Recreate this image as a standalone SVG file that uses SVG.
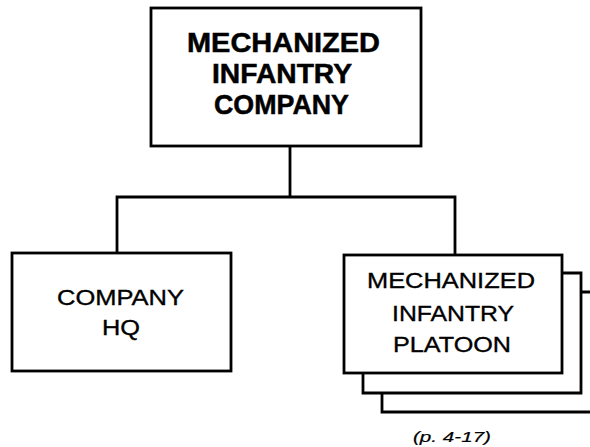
<svg xmlns="http://www.w3.org/2000/svg" width="590" height="447" viewBox="0 0 590 447">
<style>
.box{fill:#fff;stroke:#000;stroke-width:2.8}
.ln{fill:none;stroke:#000;stroke-width:2.8}
text{font-family:"Liberation Sans",Arial,sans-serif;fill:#000}
.b{font-weight:bold;font-size:27.5px;stroke:#000;stroke-width:0.5}
.r{font-size:22.5px;stroke:#000;stroke-width:0.35}
.c{font-style:italic;font-size:15px;stroke:#000;stroke-width:0.2}
</style>
<rect width="590" height="447" fill="#fff"/>
<g id="connectors">
<path class="ln" d="M290,146 V197 M117,253 V197 H455 V255"/>
</g>
<g id="company">
<rect class="box" x="151" y="8" width="270" height="138"/>
<text class="b" x="187" y="52" textLength="193" lengthAdjust="spacingAndGlyphs">MECHANIZED</text>
<text class="b" x="212" y="83" textLength="140" lengthAdjust="spacingAndGlyphs">INFANTRY</text>
<text class="b" x="214" y="114" textLength="135" lengthAdjust="spacingAndGlyphs">COMPANY</text>
</g>
<g id="hq">
<rect class="box" x="12" y="253" width="219" height="118"/>
<text class="r" x="57" y="305" textLength="127" lengthAdjust="spacingAndGlyphs">COMPANY</text>
<text class="r" x="102" y="335" textLength="38" lengthAdjust="spacingAndGlyphs">HQ</text>
</g>
<g id="platoon">
<path class="ln" d="M382,393 V412 H595 M581,292 H595"/>
<path class="ln" d="M363,373 V393 H581 V273 H562"/>
<rect class="box" x="344" y="255" width="218" height="118"/>
<text class="r" x="367" y="288" textLength="168" lengthAdjust="spacingAndGlyphs">MECHANIZED</text>
<text class="r" x="392" y="321" textLength="122" lengthAdjust="spacingAndGlyphs">INFANTRY</text>
<text class="r" x="393" y="352" textLength="118" lengthAdjust="spacingAndGlyphs">PLATOON</text>
</g>
<g id="caption">
<text class="c" x="413" y="442" textLength="78" lengthAdjust="spacingAndGlyphs">(p. 4-17)</text>
</g>
</svg>
